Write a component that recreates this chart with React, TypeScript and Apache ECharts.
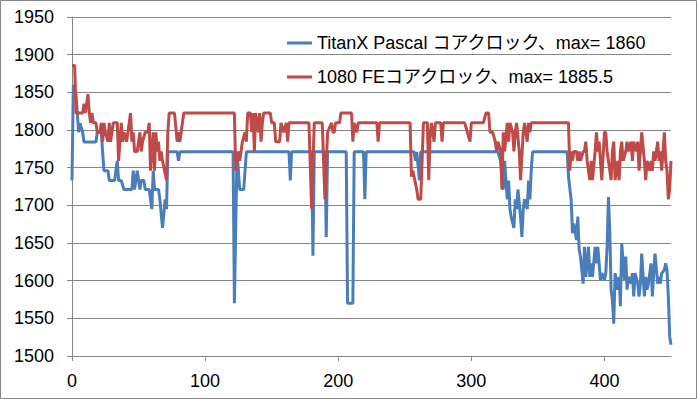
import React, { useEffect, useRef } from "react";
import * as echarts from "echarts";

const xTickValues = [0, 100, 200, 300, 400];
const seriesNames = [
  "TitanX Pascal コアクロック、max= 1860",
  "1080 FEコアクロック、max= 1885.5",
];

const titanSec = [
  0, 1, 3, 4, 5, 6, 8, 9, 18, 19, 22, 23, 24, 27, 28, 32, 34, 35, 37, 39, 45, 46, 47, 49, 51, 52, 54, 55, 58,
  60, 61, 62, 65, 66, 68, 70, 71, 72, 79, 80, 81, 121, 122, 124, 126, 129, 131, 163, 164, 165, 180, 181, 182,
  190, 191, 192, 206, 207, 211, 212, 219, 220, 221, 257, 258, 259, 261, 262, 320, 322, 323, 324, 325, 327,
  328, 329, 330, 332, 333, 334, 335, 337, 338, 339, 340, 342, 343, 344, 345, 346, 372, 373, 375, 376, 377,
  379, 380, 381, 382, 384, 385, 386, 388, 389, 390, 391, 393, 394, 395, 397, 398, 400, 401, 402, 403, 404,
  405, 406, 407, 408, 410, 411, 412, 413, 415, 416, 417, 418, 420, 421, 422, 423, 425, 426, 427, 428, 430,
  431, 432, 433, 435, 436, 437, 438, 440, 441, 442, 443, 445, 446, 447, 448, 449, 450,
];
const titanClock = [
  1733, 1860, 1848, 1822, 1797, 1809, 1797, 1784, 1784, 1797, 1797, 1771, 1746, 1746, 1733, 1733, 1759, 1733,
  1733, 1721, 1721, 1746, 1721, 1746, 1721, 1733, 1733, 1721, 1721, 1695, 1746, 1721, 1721, 1708, 1670, 1708,
  1695, 1771, 1771, 1759, 1771, 1771, 1570, 1771, 1721, 1721, 1771, 1771, 1733, 1771, 1771, 1633, 1771, 1771,
  1658, 1771, 1771, 1570, 1570, 1771, 1771, 1708, 1771, 1771, 1759, 1771, 1733, 1771, 1771, 1759, 1738, 1721,
  1759, 1708, 1733, 1695, 1684, 1670, 1708, 1695, 1721, 1684, 1658, 1695, 1708, 1695, 1733, 1708, 1746, 1771,
  1771, 1738, 1707, 1663, 1676, 1654, 1685, 1641, 1632, 1596, 1645, 1605, 1645, 1605, 1623, 1605, 1645, 1623,
  1645, 1601, 1610, 1601, 1610, 1645, 1711, 1667, 1588, 1574, 1543, 1610, 1588, 1605, 1566, 1650, 1601, 1632,
  1588, 1605, 1596, 1610, 1579, 1610, 1596, 1579, 1596, 1636, 1579, 1605, 1588, 1596, 1623, 1579, 1610, 1636,
  1596, 1605, 1596, 1610, 1614, 1623, 1614, 1579, 1526, 1515,
];

const feSec = [
  0, 2, 3, 8, 9, 10, 11, 12, 13, 14, 15, 16, 18, 19, 21, 22, 23, 24, 25, 27, 28, 29, 31, 34, 35, 37, 38, 39,
  41, 44, 45, 46, 47, 49, 51, 52, 53, 55, 57, 58, 59, 61, 62, 63, 64, 65, 66, 67, 68, 71, 72, 73, 77, 79, 80,
  81, 82, 84, 122, 123, 125, 126, 127, 128, 130, 131, 132, 134, 135, 136, 137, 138, 140, 141, 142, 143, 144,
  149, 150, 152, 153, 156, 157, 159, 161, 162, 163, 178, 180, 182, 188, 190, 192, 195, 196, 197, 198, 201,
  202, 210, 211, 212, 214, 215, 229, 230, 231, 254, 255, 256, 257, 259, 260, 262, 264, 267, 268, 269, 270,
  272, 273, 277, 278, 279, 295, 297, 299, 300, 309, 311, 313, 314, 316, 318, 319, 320, 322, 323, 324, 325,
  327, 328, 329, 331, 332, 333, 334, 336, 337, 339, 340, 342, 343, 344, 345, 373, 374, 375, 376, 377, 379,
  380, 381, 382, 384, 385, 386, 387, 389, 390, 391, 393, 394, 395, 396, 397, 398, 400, 401, 402, 403, 405,
  406, 407, 408, 410, 411, 412, 413, 414, 416, 417, 418, 420, 421, 422, 424, 425, 426, 427, 428, 430, 431,
  432, 434, 435, 436, 437, 438, 440, 441, 442, 443, 445, 446, 447, 448, 449, 450,
];
const feClock = [
  1885.5, 1885.5, 1822.5, 1822.5, 1835, 1822.5, 1835, 1847.5, 1822.5, 1809.5, 1822.5, 1809.5, 1809.5, 1797,
  1797, 1809.5, 1784.5, 1809.5, 1797, 1784.5, 1809.5, 1784.5, 1809.5, 1809.5, 1759, 1809.5, 1784.5, 1797,
  1784.5, 1822.5, 1784.5, 1797, 1771.5, 1771.5, 1797, 1771.5, 1784.5, 1797, 1797, 1809.5, 1746, 1797, 1746,
  1797, 1771.5, 1784.5, 1759, 1771.5, 1759, 1733.5, 1797, 1822.5, 1822.5, 1784.5, 1797, 1784.5, 1797, 1822.5,
  1822.5, 1746, 1771.5, 1759, 1771.5, 1784.5, 1797, 1784.5, 1822.5, 1822.5, 1797, 1822.5, 1771.5, 1822.5,
  1797, 1822.5, 1784.5, 1809.5, 1822.5, 1822.5, 1809.5, 1809.5, 1784.5, 1784.5, 1809.5, 1797, 1809.5, 1784.5,
  1809.5, 1809.5, 1695.5, 1809.5, 1809.5, 1708, 1797, 1809.5, 1797, 1797, 1809.5, 1809.5, 1822.5, 1822.5,
  1784.5, 1809.5, 1797, 1809.5, 1809.5, 1784.5, 1809.5, 1809.5, 1738, 1746, 1738, 1721, 1708, 1708, 1809.5,
  1809.5, 1733.5, 1790, 1809.5, 1784.5, 1809.5, 1809.5, 1784.5, 1809.5, 1809.5, 1797, 1784.5, 1809.5, 1809.5,
  1822.5, 1822.5, 1797, 1797, 1784.5, 1771.5, 1784.5, 1771.5, 1721, 1797, 1771.5, 1809.5, 1784.5, 1809.5,
  1797, 1771.5, 1797, 1809.5, 1771.5, 1733.5, 1797, 1809.5, 1784.5, 1809.5, 1797, 1809.5, 1809.5, 1746,
  1771.5, 1759, 1771.5, 1771.5, 1759, 1771.5, 1759, 1771.5, 1771.5, 1784.5, 1759, 1733.5, 1759, 1733.5,
  1771.5, 1797, 1771.5, 1784.5, 1759, 1733.5, 1797, 1797, 1771.5, 1759, 1733.5, 1771.5, 1784.5, 1733.5, 1759,
  1733.5, 1771.5, 1784.5, 1759, 1771.5, 1784.5, 1771.5, 1784.5, 1759, 1784.5, 1771.5, 1784.5, 1746, 1771.5,
  1797, 1759, 1733.5, 1759, 1746, 1759, 1746, 1771.5, 1759, 1784.5, 1759, 1771.5, 1746, 1797, 1759, 1746,
  1708, 1721, 1759,
];

const FONT = "'Liberation Sans', 'Noto Sans CJK JP', sans-serif";
const AXIS_COLOR = "#868686";

export default function App() {
  const ref = useRef<HTMLDivElement>(null);
  useEffect(() => {
    if (!ref.current) return;
    const chart = echarts.init(ref.current, undefined, { renderer: "svg" });
    chart.setOption({
      animation: false,
      color: ["#4A7EBB", "#BE4B48"],
      graphic: [
        {
          type: "rect",
          shape: { x: 0.5, y: 0.5, width: 696, height: 398 },
          style: { fill: "none", stroke: AXIS_COLOR, lineWidth: 1 },
          silent: true,
        },
      ],
      grid: { left: 72, right: 26, top: 17, bottom: 43 },
      legend: {
        orient: "vertical",
        left: 282,
        top: 28,
        itemWidth: 25,
        itemHeight: 3,
        itemGap: 14,
        icon: "rect",
        data: seriesNames,
        textStyle: { fontSize: 18, lineHeight: 20, color: "#000", fontFamily: FONT },
      },
      xAxis: {
        type: "value",
        min: 0,
        max: 450,
        interval: 100,
        axisLine: { show: true, lineStyle: { color: AXIS_COLOR, width: 1 } },
        axisTick: { show: true, length: 5, lineStyle: { color: AXIS_COLOR }, customValues: xTickValues },
        axisLabel: {
          customValues: xTickValues,
          margin: 16,
          fontSize: 18,
          color: "#000",
          fontFamily: FONT,
          formatter: (v: number) => String(v),
        },
        splitLine: { show: false },
      },
      yAxis: {
        type: "value",
        min: 1500,
        max: 1950,
        interval: 50,
        axisLine: { show: true, lineStyle: { color: AXIS_COLOR, width: 1 } },
        axisTick: { show: true, length: 5, lineStyle: { color: AXIS_COLOR } },
        axisLabel: {
          margin: 18,
          fontSize: 18,
          color: "#000",
          fontFamily: FONT,
          formatter: (v: number) => String(v),
        },
        splitLine: { show: true, lineStyle: { color: AXIS_COLOR, width: 1 } },
      },
      series: [
        {
          name: seriesNames[0],
          type: "line",
          symbol: "none",
          data: titanSec.map((s, i) => [s, titanClock[i]]),
          lineStyle: { width: 3 },
        },
        {
          name: seriesNames[1],
          type: "line",
          symbol: "none",
          data: feSec.map((s, i) => [s, feClock[i]]),
          lineStyle: { width: 3 },
        },
      ],
    });
    return () => chart.dispose();
  }, []);
  return (
    <div
      ref={ref}
      style={{ position: "absolute", left: 0, top: 0, width: 697, height: 399, background: "#fff" }}
    />
  );
}
